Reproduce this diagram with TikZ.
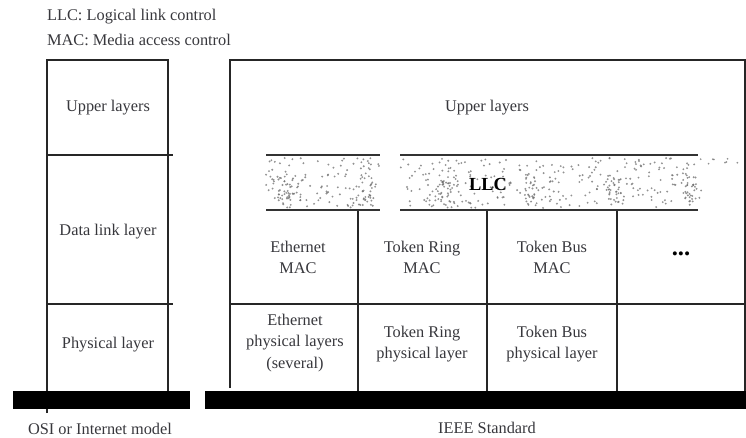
\documentclass[tikz,border=0pt]{standalone}
\usepackage{fontspec}
\setmainfont{Liberation Serif}
\usepackage{xcolor}
\usepackage{tikz}
\usetikzlibrary{positioning, calc}
\definecolor{TxtGray}{RGB}{55,55,60}
\definecolor{DotGray}{RGB}{110,110,110}

\begin{document}
\begin{tikzpicture}[x=0.02cm, y=-0.02cm,
            lbl/.style={font=\fontsize{9.3}{12}\selectfont, text=TxtGray,
                        align=center, inner sep=1pt},
            rule/.style={draw=black!85, line width=0.8pt},
            llcrule/.style={draw=black!80, line width=1.3pt},
            llcdot/.style={fill=DotGray, opacity=0.75},
            bar/.style={fill=black}
          ]
          \useasboundingbox (0,0) rectangle (746,437);

          % Legend
          \node[lbl, anchor=west] (legend1) at (45,17) {LLC: Logical link control};
          \node[lbl, anchor=west] (legend2) at (45,40) {MAC: Media access control};

          % OSI column
          \draw[rule] (47,413) -- (47,60) -- (168,60) -- (168,391);
          \draw[rule] (47,155) -- (173,155);
          \draw[rule] (47,304) -- (173,304);
          \node[lbl] (osiUpper) at (108,108) {Upper layers};
          \node[lbl] (osiData)  at (108,232) {Data link layer};
          \node[lbl] (osiPhys)  at (108,345) {Physical layer};
          \fill[bar] (13,391) rectangle (190,409);
          \node[lbl] (osiLabel) at (100,429) {OSI or Internet model};

          % IEEE column
          \draw[rule] (230,388) -- (230,60) -- (745,60) -- (745,391);
          \draw[rule] (230,304) -- (746,304);
          \foreach \x in {358,487,617}
            \draw[rule] (\x,210) -- (\x,391);
          \node[lbl] (ieeeUpper) at (487,108) {Upper layers};

          % LLC band (speckled, denser in clusters)
          \pgfmathsetseed{4242}
          \foreach \i in {1,...,120}
            \fill[llcdot] ({266+114*rnd},{158+50*rnd}) circle[radius=0.6pt];
          \foreach \i in {1,...,280}
            \fill[llcdot] ({400+298*rnd},{158+50*rnd}) circle[radius=0.6pt];
          \foreach \cx in {285,365,445,530,615,690}
            \foreach \i in {1,...,30}
              \fill[llcdot] ({\cx+16*(rnd-0.5)+8*(rnd-0.5)},{190+30*(rnd-0.5)})
                circle[radius=0.6pt];
          \foreach \i in {1,...,8}
            \fill[llcdot] ({700+38*rnd},{156+8*rnd}) circle[radius=0.55pt];
          \draw[llcrule] (266,155) -- (380,155);
          \draw[llcrule] (266,210) -- (380,210);
          \draw[llcrule] (400,155) -- (698,155);
          \draw[llcrule] (400,210) -- (698,210);
          \node[lbl, text=black, font=\fontsize{10.5}{13}\selectfont\bfseries]
                (llc) at (488,184) {LLC};

          % MAC row
          \node[lbl] (ethMac)  at (298,257) {Ethernet\\MAC};
          \node[lbl] (ringMac) at (422,257) {Token Ring\\MAC};
          \node[lbl] (busMac)  at (552,257) {Token Bus\\MAC};
          \node[lbl, text=black, font=\fontsize{14}{14}\selectfont\bfseries]
                (moreMac) at (681,254) {...};

          % Physical row
          \node[lbl] (ethPhy)  at (295,343) {Ethernet\\physical layers\\(several)};
          \node[lbl] (ringPhy) at (422,344) {Token Ring\\physical layer};
          \node[lbl] (busPhy)  at (552,344) {Token Bus\\physical layer};

          \fill[bar] (205,391) rectangle (746,409);
          \node[lbl] (ieeeLabel) at (487,428) {IEEE Standard};
        \end{tikzpicture}
\end{document}
